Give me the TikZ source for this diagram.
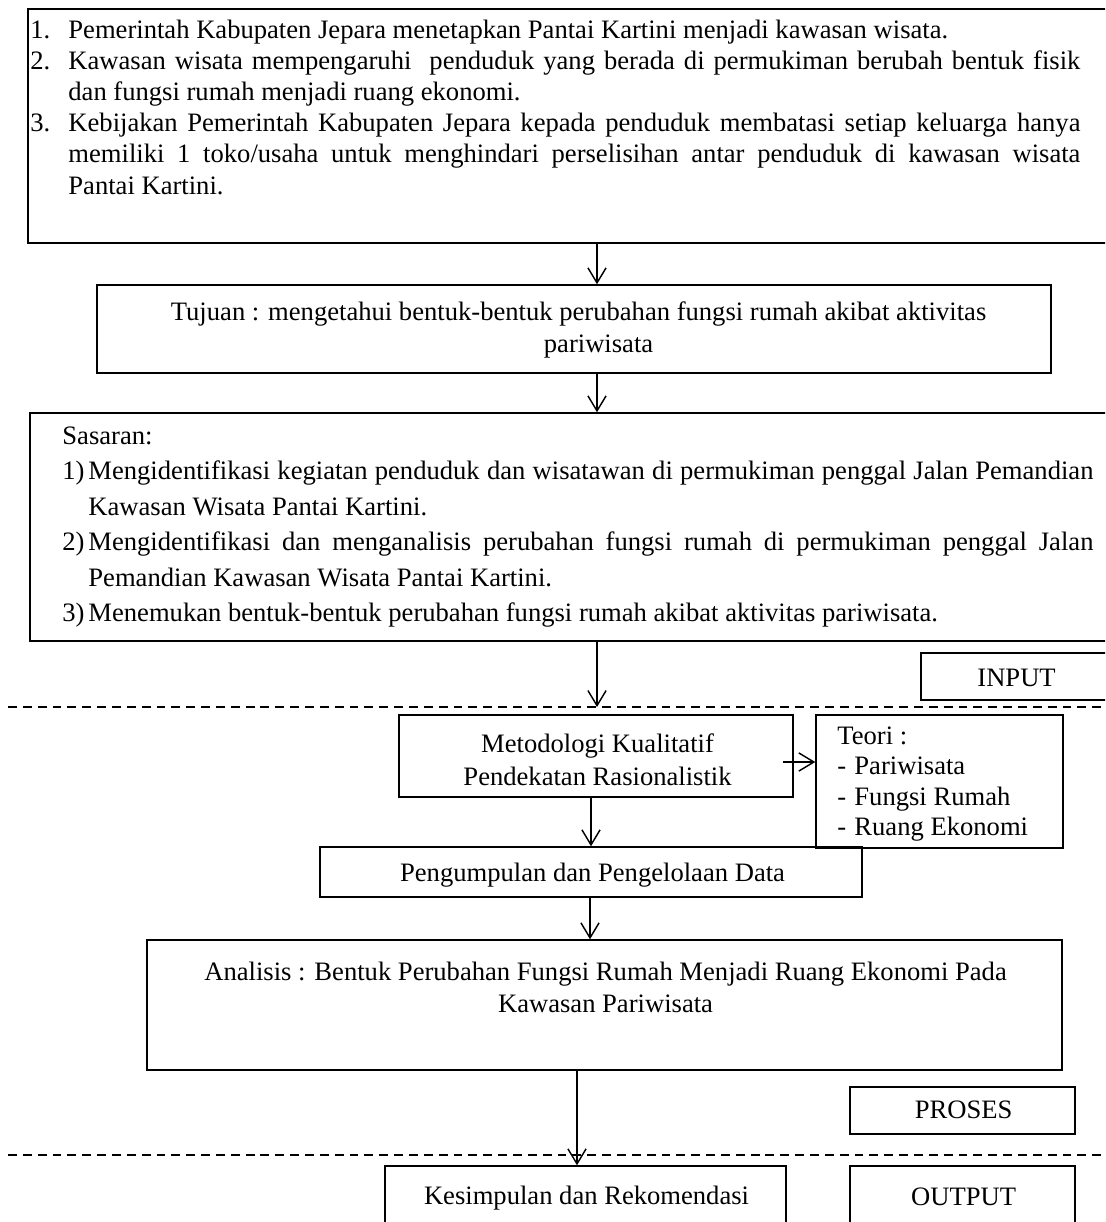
\documentclass[tikz,border=0pt]{standalone}
\usepackage{fontspec}
\setmainfont{Liberation Serif}
\usetikzlibrary{arrows.meta,fit}
\newlength\ux
\setlength\ux{0.4511pt}
% a left-aligned label of given width, followed by the item text
\newcommand\lab[2]{\hbox to #1\ux{#2\hss}}
% a line centred on the anchor point
\newcommand\cl[1]{\hbox to 0pt{\hss#1\hss}}
% a justified line of given width
\newcommand\jl[2]{\makebox[#1\ux][s]{#2}}
% a block of lines with a fixed line pitch
\newcommand\lines[2]{\vtop{\baselineskip=#1\ux\lineskiplimit=-20pt #2}}
\begin{document}
\begin{tikzpicture}[x=0.4511pt,y=-0.4511pt,
  frame/.style={draw, line width=0.65pt, rectangle, inner sep=0pt},
  arr/.style={line width=0.65pt, -{Straight Barb[length=6.8pt,width=8.2pt]}},
  sepline/.style={line width=0.6pt, dash pattern=on 4pt off 2.7pt},
  txt/.style={inner sep=0pt, anchor=base west, font=\fontsize{12}{14}\selectfont}]
\useasboundingbox (0,0) rectangle (1105,1222);
\clip (0,0) rectangle (1105,1222);

% ---------- frames ----------
\node[frame, fit={(28,9) (1120,243)}] (latar) {};
\node[frame, fit={(97,285) (1051,373)}] (tujuan) {};
\node[frame, fit={(30,413) (1120,641)}] (sasaran) {};
\node[frame, fit={(921,653) (1120,700)}] (input) {};
\node[frame, fit={(399,715) (793,797)}] (metode) {};
\node[frame, fit={(816,715) (1063,848)}] (teori) {};
\node[frame, fit={(320,847) (862,897)}] (data) {};
\node[frame, fit={(147,940) (1062,1070)}] (analisis) {};
\node[frame, fit={(850,1087) (1075,1134)}] (proses) {};
\node[frame, fit={(385,1166) (786,1240)}] (hasil) {};
\node[frame, fit={(850,1166) (1075,1240)}] (output) {};

% ---------- stage separators ----------
\coordinate (d1a) at (8,707);
\coordinate (d1b) at (1105,707);
\coordinate (d2a) at (8,1155);
\coordinate (d2b) at (1105,1155);
\draw[sepline] (d1a) -- (d1b);
\draw[sepline] (d2a) -- (d2b);

% ---------- texts ----------
\node[txt] (latarT) at (30,38) {\lines{31.2}{%
\hbox{\lab{38}{1.}Pemerintah Kabupaten Jepara menetapkan Pantai Kartini menjadi kawasan wisata.}
\hbox{\lab{38}{2.}\jl{1012}{Kawasan wisata mempengaruhi\ \ penduduk yang berada di permukiman berubah bentuk fisik}}
\hbox{\lab{38}{}dan fungsi rumah menjadi ruang ekonomi.}
\hbox{\lab{38}{3.}\jl{1012}{Kebijakan Pemerintah Kabupaten Jepara kepada penduduk membatasi setiap keluarga hanya}}
\hbox{\lab{38}{}\jl{1012}{memiliki 1 toko/usaha untuk menghindari perselisihan antar penduduk di kawasan wisata}}
\hbox{\lab{38}{}Pantai Kartini.}}};

\node[txt] (tujuanT) at (577,320) {\cl{Tujuan : mengetahui bentuk-bentuk perubahan fungsi rumah akibat aktivitas}};
\node[txt] (tujuanT2) at (597,352) {\cl{pariwisata}};

\node[txt] (sasaranT) at (62,444) {\lines{35.5}{%
\hbox{Sasaran:}
\hbox{\lab{26}{1)}\jl{1005}{Mengidentifikasi kegiatan penduduk dan wisatawan di permukiman penggal Jalan Pemandian}}
\hbox{\lab{26}{}Kawasan Wisata Pantai Kartini.}
\hbox{\lab{26}{2)}\jl{1005}{Mengidentifikasi dan menganalisis perubahan fungsi rumah di permukiman penggal Jalan}}
\hbox{\lab{26}{}Pemandian Kawasan Wisata Pantai Kartini.}
\hbox{\lab{26}{3)}Menemukan bentuk-bentuk perubahan fungsi rumah akibat aktivitas pariwisata.}}};

\node[txt] (inputT) at (1015,686) {\cl{INPUT}};

\node[txt] (metodeT) at (596,752) {\lines{33}{%
\cl{Metodologi Kualitatif}
\cl{Pendekatan Rasionalistik}}};

\node[txt] (teoriT) at (837,744) {\lines{30.5}{%
\hbox{Teori :}
\hbox{\lab{17}{-}Pariwisata}
\hbox{\lab{17}{-}Fungsi Rumah}
\hbox{\lab{17}{-}Ruang Ekonomi}}};

\node[txt] (dataT) at (591,881) {\cl{Pengumpulan dan Pengelolaan Data}};

\node[txt] (analisisT) at (604,980) {\lines{32}{%
\cl{Analisis : Bentuk Perubahan Fungsi Rumah Menjadi Ruang Ekonomi Pada}
\cl{Kawasan Pariwisata}}};

\node[txt] (prosesT) at (962,1118) {\cl{PROSES}};
\node[txt] (hasilT) at (585,1204) {\cl{Kesimpulan dan Rekomendasi}};
\node[txt] (outputT) at (962,1205) {\cl{OUTPUT}};

% ---------- connectors ----------
\coordinate (xa) at (597,0);
\coordinate (xb) at (591,0);
\coordinate (xc) at (590,0);
\coordinate (xd) at (577,0);
\coordinate (teoriIn) at (783,762);
\draw[arr] (xa |- latar.south) -- (xa |- tujuan.north);
\draw[arr] (xa |- tujuan.south) -- (xa |- sasaran.north);
\draw[arr] (xa |- sasaran.south) -- (xa |- d1a);
\draw[arr] (teoriIn) -- (teoriIn -| teori.west);
\draw[arr] (xb |- metode.south) -- (xb |- data.north);
\draw[arr] (xc |- data.south) -- (xc |- analisis.north);
\draw[arr] (xd |- analisis.south) -- (xd |- hasil.north);
\end{tikzpicture}
\end{document}
